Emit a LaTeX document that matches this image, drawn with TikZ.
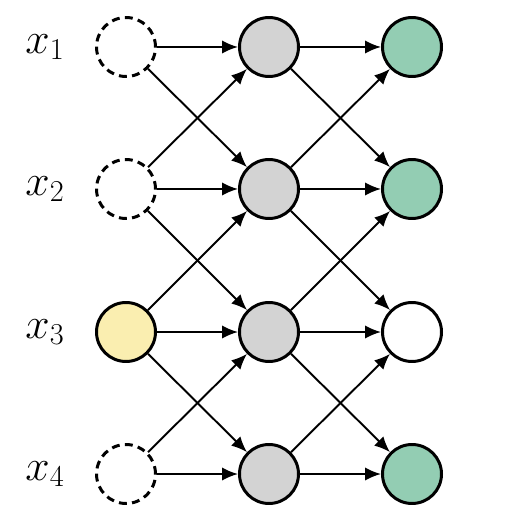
\documentclass[tikz,border=0pt]{standalone}
\usetikzlibrary{arrows.meta}
\definecolor{hidgray}{HTML}{D3D3D3}
\definecolor{outgreen}{HTML}{93CDB3}
\definecolor{inyellow}{HTML}{FAEEB0}
\begin{document}
\begin{tikzpicture}[x=0.02cm,y=-0.02cm,
  neuron/.style={circle,draw=black,line width=1.7pt,minimum size=1.18cm,inner sep=0pt},
  ghost/.style={neuron,dash pattern=on 4.5pt off 3pt},
  conn/.style={line width=1.1pt,-{Latex[length=9pt,width=7.5pt]}},
  lbl/.style={font=\fontsize{24}{28}\selectfont}]
\useasboundingbox (0,0) rectangle (516,516);
\node[ghost] (i1) at (126,47) {};
\node[ghost] (i2) at (126,189) {};
\node[neuron,fill=inyellow] (i3) at (126,332) {};
\node[ghost] (i4) at (126,474) {};
\foreach \k/\y in {1/47,2/189,3/332,4/474}{
  \node[neuron,fill=hidgray] (h\k) at (269,\y) {};
}
\node[neuron,fill=outgreen] (o1) at (412,47) {};
\node[neuron,fill=outgreen] (o2) at (412,189) {};
\node[neuron,fill=white] (o3) at (412,332) {};
\node[neuron,fill=outgreen] (o4) at (412,474) {};
\node[lbl] (l1) at (45,47) {$x_1$};
\node[lbl] (l2) at (45,189) {$x_2$};
\node[lbl] (l3) at (45,332) {$x_3$};
\node[lbl] (l4) at (45,474) {$x_4$};
\foreach \a/\b in {1/1,1/2,2/1,2/2,2/3,3/2,3/3,3/4,4/3,4/4}{
  \draw[conn] (i\a) -- (h\b);
  \draw[conn] (h\a) -- (o\b);
}
\end{tikzpicture}
\end{document}
